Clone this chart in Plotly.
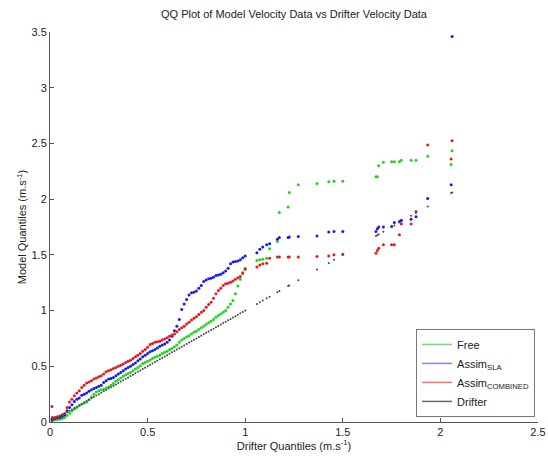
import plotly.graph_objects as go

# Drifter quantiles (m/s) -- shared x positions
drifter_q = [0.01, 0.0125, 0.025, 0.0375, 0.05, 0.0625, 0.075, 0.0875, 0.10, 0.1125, 0.125,
             0.1375, 0.15, 0.1625, 0.175, 0.1875, 0.20, 0.2125, 0.225, 0.2375, 0.25,
             0.2625, 0.275, 0.2875, 0.30, 0.3125, 0.325, 0.3375, 0.35, 0.3625, 0.375,
             0.3875, 0.40, 0.4125, 0.425, 0.4375, 0.45, 0.4625, 0.475, 0.4875, 0.50,
             0.5125, 0.525, 0.5375, 0.55, 0.5625, 0.575, 0.5875, 0.60, 0.6125, 0.625,
             0.6375, 0.65, 0.6625, 0.675, 0.6875, 0.70, 0.7125, 0.725, 0.7375, 0.75,
             0.7625, 0.775, 0.7875, 0.80, 0.8125, 0.825, 0.8375, 0.85, 0.8625, 0.875,
             0.8875, 0.90, 0.9125, 0.925, 0.9375, 0.95, 0.9625, 0.975, 0.9875, 1.00,
             1.06, 1.075, 1.09, 1.11, 1.125, 1.165, 1.175, 1.22, 1.226, 1.272,
             1.368, 1.428, 1.455, 1.50, 1.67, 1.677, 1.684, 1.708, 1.75, 1.764,
             1.79, 1.80, 1.85, 1.875, 1.935, 2.055, 2.06]

free_q = [0.012, 0.015, 0.02, 0.022, 0.024, 0.03, 0.04, 0.058, 0.078, 0.098, 0.115,
          0.13, 0.145, 0.16, 0.17, 0.18, 0.20, 0.225, 0.25, 0.27, 0.28,
          0.29, 0.295, 0.305, 0.315, 0.33, 0.345, 0.365, 0.38, 0.395, 0.41,
          0.425, 0.435, 0.445, 0.46, 0.475, 0.49, 0.505, 0.525, 0.535, 0.545,
          0.557, 0.57, 0.58, 0.59, 0.60, 0.615, 0.625, 0.635, 0.65, 0.66,
          0.675, 0.69, 0.715, 0.735, 0.75, 0.765, 0.775, 0.79, 0.805, 0.815,
          0.83, 0.845, 0.86, 0.875, 0.89, 0.905, 0.92, 0.94, 0.955, 0.97,
          0.985, 1.00, 1.03, 1.06, 1.09, 1.15, 1.22, 1.28, 1.33, 1.38,
          1.45, 1.455, 1.46, 1.47, 1.555, 1.62, 1.88, 1.93, 2.06, 2.13,
          2.14, 2.155, 2.16, 2.16, 2.20, 2.20, 2.30, 2.33, 2.335, 2.335,
          2.335, 2.35, 2.35, 2.35, 2.385, 2.31, 2.435]

sla_q = [0.028, 0.03, 0.035, 0.038, 0.04, 0.05, 0.063, 0.10, 0.13, 0.155, 0.185,
         0.205, 0.215, 0.24, 0.25, 0.26, 0.275, 0.29, 0.30, 0.31, 0.32,
         0.33, 0.355, 0.37, 0.385, 0.39, 0.40, 0.415, 0.43, 0.445, 0.46,
         0.475, 0.49, 0.50, 0.515, 0.53, 0.55, 0.565, 0.585, 0.60, 0.615,
         0.63, 0.64, 0.65, 0.665, 0.68, 0.69, 0.70, 0.715, 0.735, 0.77,
         0.82, 0.86, 0.92, 1.01, 1.06, 1.10, 1.14, 1.16, 1.165, 1.175,
         1.20, 1.225, 1.26, 1.275, 1.285, 1.29, 1.30, 1.315, 1.32, 1.325,
         1.34, 1.355, 1.38, 1.42, 1.435, 1.44, 1.445, 1.455, 1.475, 1.49,
         1.52, 1.55, 1.57, 1.59, 1.60, 1.64, 1.655, 1.655, 1.66, 1.664,
         1.67, 1.705, 1.71, 1.71, 1.71, 1.735, 1.75, 1.75, 1.755, 1.79,
         1.80, 1.81, 1.82, 1.843, 2.005, 2.13, 3.46]

combined_q = [0.14, 0.04, 0.04, 0.047, 0.054, 0.064, 0.076, 0.13, 0.18, 0.205, 0.235,
              0.26, 0.28, 0.31, 0.33, 0.35, 0.36, 0.37, 0.385, 0.395, 0.405,
              0.415, 0.43, 0.45, 0.46, 0.47, 0.48, 0.49, 0.50, 0.51, 0.52,
              0.535, 0.545, 0.555, 0.57, 0.585, 0.60, 0.615, 0.635, 0.65, 0.67,
              0.695, 0.705, 0.715, 0.72, 0.725, 0.735, 0.745, 0.755, 0.77, 0.78,
              0.79, 0.81, 0.83, 0.845, 0.86, 0.88, 0.895, 0.915, 0.93, 0.945,
              0.965, 0.985, 1.00, 1.03, 1.055, 1.075, 1.11, 1.15, 1.18, 1.20,
              1.225, 1.24, 1.245, 1.255, 1.265, 1.28, 1.295, 1.305, 1.34, 1.37,
              1.39, 1.41, 1.42, 1.425, 1.47, 1.48, 1.48, 1.48, 1.48, 1.48,
              1.486, 1.49, 1.50, 1.505, 1.515, 1.54, 1.56, 1.59, 1.59, 1.59,
              1.68, 1.777, 1.777, 1.89, 2.487, 2.36, 2.525]

series = [
    ("Free", free_q, "#1ed81e", "#6ee06e"),
    ("Assim<sub>SLA</sub>", sla_q, "#1a1ae6", "#8585ee"),
    ("Assim<sub>COMBINED</sub>", combined_q, "#e61a1a", "#ee7070"),
    ("Drifter", drifter_q, "#444444", "#666666"),
]

fig = go.Figure()
for name, vals, mcol, lcol in series:
    is_drifter = name == "Drifter"
    fig.add_trace(go.Scatter(
        x=drifter_q, y=vals, mode="markers", showlegend=False,
        marker=dict(color=mcol, size=2 if is_drifter else 3, line=dict(width=0)),
        hoverinfo="x+y"))
for name, vals, mcol, lcol in series:
    fig.add_trace(go.Scatter(
        x=[None], y=[None], mode="lines", name=name,
        line=dict(color=lcol, width=1.5)))

FONT = "Liberation Sans, Arial"
axis_common = dict(
    showline=True, linecolor="#555555", linewidth=1, mirror=False,
    ticks="inside", ticklen=4, tickcolor="#555555",
    showgrid=False, zeroline=False, automargin=False,
    ticklabeloverflow="allow",
    tickfont=dict(family=FONT, size=11, color="#222222"),
)

fig.update_layout(
    width=548, height=456,
    paper_bgcolor="white", plot_bgcolor="white",
    margin=dict(l=50, r=10, t=32, b=34, autoexpand=False),
    title=dict(text="QQ Plot of Model Velocity Data vs Drifter Velocity Data",
               x=0.5365, xanchor="center", y=0.969, yanchor="middle",
               font=dict(family=FONT, size=11, color="#222222")),
    xaxis=dict(range=[0, 2.5], tickvals=[0, 0.5, 1, 1.5, 2, 2.5],
               ticktext=["0", "0.5", "1", "1.5", "2", "2.5"],
               title=dict(text="Drifter Quantiles (m.s<sup>-1</sup>)", standoff=2,
                          font=dict(family=FONT, size=11, color="#222222")),
               **axis_common),
    yaxis=dict(range=[0, 3.5], tickvals=[0, 0.5, 1, 1.5, 2, 2.5, 3, 3.5],
               ticktext=["0", "0.5", "1", "1.5", "2", "2.5", "3", "3.5"],
               title=dict(text="Model Quantiles (m.s<sup>-1</sup>)", standoff=2,
                          font=dict(family=FONT, size=11, color="#222222")),
               **axis_common),
    legend=dict(x=0.994, xanchor="right", y=0.013, yanchor="bottom",
                bgcolor="white", bordercolor="#777777", borderwidth=1,
                font=dict(family=FONT, size=11, color="#222222"),
                tracegroupgap=0, itemwidth=30),
)

fig.write_html("out.html",
               config={"displayModeBar": False},
               post_script="document.body.style.margin='0';document.body.style.overflow='hidden';")
